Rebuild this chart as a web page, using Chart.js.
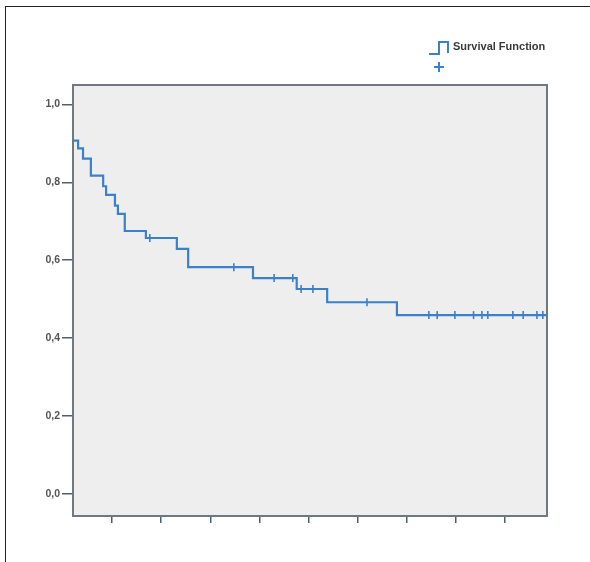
<!DOCTYPE html>
<html>
<head>
<meta charset="utf-8">
<script src="https://cdn.jsdelivr.net/npm/chart.js@4.4.1/dist/chart.umd.min.js"></script>
<style>
  html, body { margin: 0; padding: 0; background: #fff; }
  #wrap { position: relative; width: 590px; height: 562px; }
  #frame { position: absolute; left: 5px; top: 6px; width: 585px; height: 556px;
           border-top: 1.5px solid #222; border-left: 1.5px solid #222; box-sizing: border-box; }
  canvas { position: absolute; left: 0; top: 0; }
</style>
</head>
<body>
<div id="wrap">
  <div id="frame"></div>
  <canvas id="km" width="590" height="562"></canvas>
</div>
<script>
// time in axis units (ticks at 1..9), survival after each event
var startTime = 0.206;
var startSurvival = 0.907;
var eventTimes = [0.31, 0.41, 0.57, 0.82, 0.88, 1.06, 1.12, 1.26, 1.69, 2.32, 2.55, 3.87, 4.76, 5.38, 6.80];
var survival   = [0.887, 0.861, 0.817, 0.790, 0.768, 0.740, 0.719, 0.675, 0.657, 0.629, 0.582, 0.554, 0.526, 0.492, 0.459];
var endTime = 9.84;
var censorTimes = [1.77, 3.48, 4.30, 4.68, 4.85, 5.09, 6.19, 7.45, 7.62, 7.98, 8.36, 8.53, 8.65, 9.16, 9.37, 9.65, 9.77];
var xTicks = [1, 2, 3, 4, 5, 6, 7, 8, 9];
var yTicks = [0, 0.2, 0.4, 0.6, 0.8, 1.0];

var blue = 'rgb(58,128,202)';

function survivalAt(t) {
  var s = startSurvival;
  for (var i = 0; i < eventTimes.length; i++) {
    if (eventTimes[i] <= t) s = survival[i];
  }
  return s;
}

var stepPts = [{x: startTime, y: startSurvival}];
for (var i = 0; i < eventTimes.length; i++) stepPts.push({x: eventTimes[i], y: survival[i]});
stepPts.push({x: endTime, y: survival[survival.length - 1]});

var censorPts = censorTimes.map(function (t) { return {x: t, y: survivalAt(t)}; });

var framePlugin = {
  id: 'frame',
  beforeDatasetsDraw: function (chart) {
    var a = chart.chartArea, ctx = chart.ctx;
    ctx.save();
    ctx.fillStyle = '#eeeeee';
    ctx.fillRect(a.left, a.top, a.right - a.left, a.bottom - a.top);
    ctx.strokeStyle = '#6d7a84';
    ctx.lineWidth = 2;
    ctx.strokeRect(a.left, a.top, a.right - a.left, a.bottom - a.top);
    ctx.restore();
  },
  afterDraw: function (chart) {
    var ctx = chart.ctx;
    ctx.save();
    ctx.strokeStyle = blue;
    ctx.lineWidth = 2;
    ctx.beginPath();
    ctx.moveTo(429, 54); ctx.lineTo(439, 54); ctx.lineTo(439, 42);
    ctx.lineTo(448, 42); ctx.lineTo(448, 53);
    ctx.stroke();
    ctx.beginPath();
    ctx.moveTo(434, 67); ctx.lineTo(444, 67);
    ctx.moveTo(439, 62); ctx.lineTo(439, 72);
    ctx.stroke();
    ctx.fillStyle = '#3a3a3a';
    ctx.font = 'bold 11px "Liberation Sans", Arial, sans-serif';
    ctx.textBaseline = 'middle';
    ctx.fillText('Survival Function', 453, 47);
    ctx.restore();
  }
};

new Chart(document.getElementById('km').getContext('2d'), {
  type: 'line',
  data: {
    datasets: [{
      label: 'Survival Function',
      data: stepPts,
      stepped: true,
      borderColor: blue,
      borderWidth: 2.2,
      pointRadius: 0,
      fill: false
    }, {
      label: 'Censored',
      data: censorPts,
      showLine: false,
      pointStyle: 'line',
      rotation: 90,
      pointRadius: 4,
      borderColor: blue,
      borderWidth: 1.6
    }]
  },
  options: {
    responsive: false,
    animation: false,
    layout: { padding: { left: 0, top: 85, right: 43, bottom: 36 } },
    plugins: { legend: { display: false }, tooltip: { enabled: false } },
    scales: {
      x: {
        type: 'linear',
        min: 0.206, max: 9.855,
        afterBuildTicks: function (s) { s.ticks = xTicks.map(function (v) { return {value: v}; }); },
        afterFit: function (s) { s.height = 10; },
        grid: { drawOnChartArea: false, drawTicks: true, tickLength: 7, color: '#4f5f6b', lineWidth: 1.5 },
        border: { display: false },
        ticks: { display: false }
      },
      y: {
        min: -0.057, max: 1.05,
        afterBuildTicks: function (s) { s.ticks = yTicks.map(function (v) { return {value: v}; }); },
        afterFit: function (s) { s.width = 73; },
        grid: { drawOnChartArea: false, drawTicks: true, tickLength: 11, color: '#4f5f6b', lineWidth: 1.5 },
        border: { display: false },
        ticks: {
          color: '#555',
          padding: 2,
          font: { family: '"Liberation Sans", Arial, sans-serif', size: 10.5, weight: 'bold' },
          callback: function (v) { return v.toFixed(1).replace('.', ','); }
        }
      }
    }
  },
  plugins: [framePlugin]
});
</script>
</body>
</html>
